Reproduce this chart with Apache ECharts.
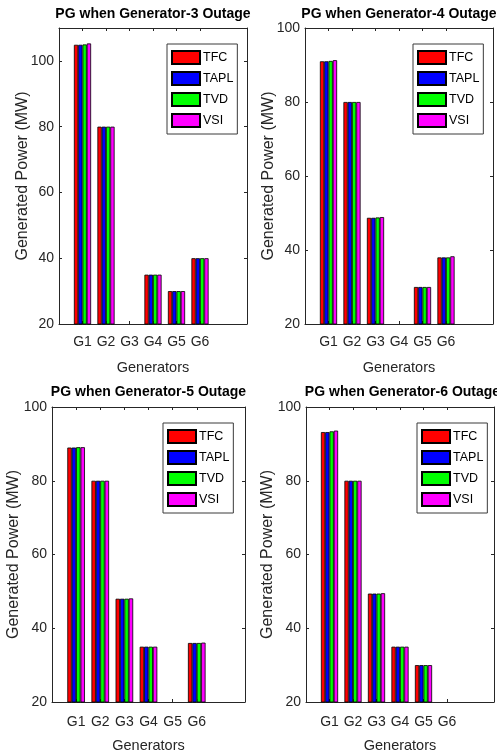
<!DOCTYPE html>
<html>
<head>
<meta charset="utf-8">
<script src="https://cdn.jsdelivr.net/npm/echarts@6/dist/echarts.min.js"></script>
<style>
html, body { margin: 0; padding: 0; background: #fff; }
#main { width: 497px; height: 756px; }
</style>
</head>
<body>
<div id="main"></div>
<script>
// data
const generators = ['G1', 'G2', 'G3', 'G4', 'G5', 'G6']
const methods = ['TFC', 'TAPL', 'TVD', 'VSI']
const titles = [
    'PG when Generator-3 Outage',
    'PG when Generator-4 Outage',
    'PG when Generator-5 Outage',
    'PG when Generator-6 Outage'
]
const y_min = 20
const y_interval = 20
const y_max = [110, 100, 100, 100]

// generator 3 out
const g3_tfc  = [104.9, 80, 0, 35, 30, 40]
const g3_tapl = [104.9, 80, 0, 35, 30, 40]
const g3_tvd  = [105.0, 80, 0, 35, 30, 40]
const g3_vsi  = [105.3, 80, 0, 35, 30, 40]
// generator 4 out
const g4_tfc  = [91.0, 80, 48.7, 0, 30, 38.0]
const g4_tapl = [91.0, 80, 48.7, 0, 30, 38.0]
const g4_tvd  = [91.1, 80, 48.8, 0, 30, 38.0]
const g4_vsi  = [91.3, 80, 48.9, 0, 30, 38.3]
// generator 5 out
const g5_tfc  = [89.0, 80, 48.0, 35, 0, 36.0]
const g5_tapl = [89.0, 80, 48.0, 35, 0, 36.0]
const g5_tvd  = [89.1, 80, 48.0, 35, 0, 36.0]
const g5_vsi  = [89.1, 80, 48.1, 35, 0, 36.1]
// generator 6 out
const g6_tfc  = [93.2, 80, 49.4, 35, 30, 0]
const g6_tapl = [93.2, 80, 49.4, 35, 30, 0]
const g6_tvd  = [93.4, 80, 49.4, 35, 30, 0]
const g6_vsi  = [93.6, 80, 49.5, 35, 30, 0]

const panel_data = [
    [g3_tfc, g3_tapl, g3_tvd, g3_vsi],
    [g4_tfc, g4_tapl, g4_tvd, g4_vsi],
    [g5_tfc, g5_tapl, g5_tvd, g5_vsi],
    [g6_tfc, g6_tapl, g6_tvd, g6_vsi]
]

// layout & style
const colors = ['#ff0000', '#0000ff', '#00ff00', '#ff00ff']
const font = "'Liberation Sans', Arial, Helvetica, sans-serif"
const ax_color = '#262626'
const grids = [
    {left: 59, top: 28, width: 188, height: 296},
    {left: 305, top: 28, width: 188, height: 296},
    {left: 52, top: 407, width: 193, height: 295},
    {left: 306, top: 407, width: 193, height: 295}
]
const legend_pos = [[167, 44], [413, 44], [163, 423], [417, 423]]
const label_margin = [11, 11, 13, 13]
const yname_gap = [28, 28, 30, 30]

// x axis runs 0..8 with G1..G6 sitting on 1..6
const x_cats = ['', ...generators, '', '']
const pad = arr => [null, ...arr, null, null]
const is_gen = idx => idx >= 1 && idx <= generators.length

const make_x = (i, top) => ({
    type: 'category',
    gridIndex: i,
    position: top ? 'top' : 'bottom',
    data: x_cats,
    boundaryGap: false,
    axisLine: {onZero: false, lineStyle: {color: ax_color, width: 1}},
    axisTick: {inside: true, length: 3, interval: is_gen, lineStyle: {color: ax_color}},
    axisLabel: {
        show: !top,
        interval: 0,
        margin: label_margin[i],
        color: ax_color,
        fontSize: 14,
        fontFamily: font
    },
    splitLine: {show: false},
    name: top ? '' : 'Generators',
    nameLocation: 'middle',
    nameGap: 36,
    nameMoveOverlap: false,
    nameTextStyle: {color: ax_color, fontSize: 14.5, fontFamily: font}
})

const make_y = (i, right) => ({
    type: 'value',
    gridIndex: i,
    position: right ? 'right' : 'left',
    min: y_min,
    max: y_max[i],
    interval: y_interval,
    axisLine: {show: true, lineStyle: {color: ax_color, width: 1}},
    axisTick: {show: true, inside: true, length: 3, lineStyle: {color: ax_color}},
    axisLabel: {
        show: !right,
        showMaxLabel: y_max[i] % y_interval === 0,
        margin: 5,
        color: ax_color,
        fontSize: 14,
        fontFamily: font
    },
    splitLine: {show: false},
    name: right ? '' : 'Generated Power (MW)',
    nameLocation: 'middle',
    nameGap: yname_gap[i],
    nameMoveOverlap: false,
    nameTextStyle: {color: ax_color, fontSize: 16, fontFamily: font}
})

const option = {
    animation: false,
    backgroundColor: '#fff',
    title: grids.map((g, i) => ({
        text: titles[i],
        left: g.left + g.width / 2,
        top: i < 2 ? 7 : 385,
        textAlign: 'center',
        padding: 0,
        textStyle: {color: '#000', fontSize: 14, fontWeight: 'bold', fontFamily: font}
    })),
    grid: grids,
    xAxis: [],
    yAxis: [],
    legend: legend_pos.map(p => ({
        data: methods,
        orient: 'vertical',
        left: p[0],
        top: p[1],
        padding: [6, 4, 6, 4],
        icon: 'rect',
        itemWidth: 28,
        itemHeight: 13,
        itemGap: 6,
        selectedMode: false,
        backgroundColor: '#fff',
        borderColor: '#3a3a3a',
        borderWidth: 1,
        borderRadius: 0,
        textStyle: {color: '#000', fontSize: 12.5, fontFamily: font, padding: [0, 0, 0, -2]}
    })),
    series: []
}

grids.forEach((g, i) => {
    option.xAxis.push(make_x(i, false), make_x(i, true))
    option.yAxis.push(make_y(i, false), make_y(i, true))
    panel_data[i].forEach((vals, k) => {
        option.series.push({
            type: 'bar',
            name: methods[k],
            xAxisIndex: 2 * i,
            yAxisIndex: 2 * i,
            data: pad(vals),
            barGap: '0%',
            barCategoryGap: '27%',
            itemStyle: {color: colors[k], borderColor: '#000', borderWidth: 0.8},
            clip: true
        })
    })
})

var myChart = echarts.init(document.getElementById('main'))
myChart.setOption(option)
</script>
</body>
</html>
